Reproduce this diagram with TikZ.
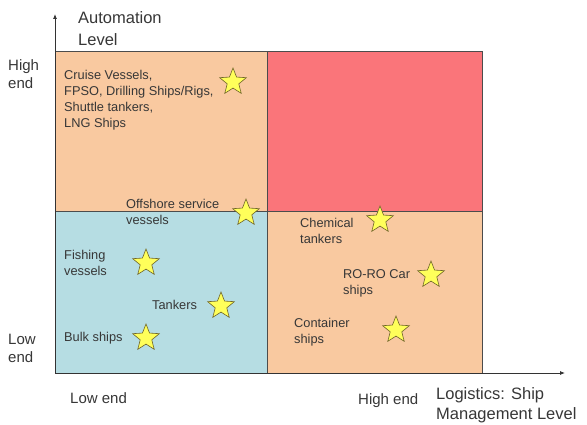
\documentclass[tikz,border=0pt]{standalone}
\usepackage{fontspec}
\setmainfont{Liberation Sans}
\usetikzlibrary{shapes.geometric,arrows.meta}
\definecolor{peach}{RGB}{249,201,160}
\definecolor{redq}{RGB}{250,117,122}
\definecolor{blueq}{RGB}{182,221,227}
\definecolor{txt}{RGB}{55,55,55}
\definecolor{stary}{RGB}{255,255,90}
\definecolor{staredge}{RGB}{110,100,40}
\tikzset{
  quad/.style={draw=black!70, line width=0.8pt},
  lbl/.style={anchor=west, align=left, font=\fontsize{12.8}{16}\selectfont, text=txt, inner sep=0pt},
  axlbl/.style={anchor=west, align=left, font=\fontsize{16.5}{22}\selectfont, text=txt, inner sep=0pt},
  endlbl/.style={anchor=west, align=left, font=\fontsize{15}{18}\selectfont, text=txt, inner sep=0pt},
  starmark/.style={star, star points=5, star point ratio=2.3, minimum size=28pt, inner sep=0pt, fill=stary, draw=staredge, line width=0.6pt},
  axis/.style={draw=black!80, line width=0.8pt, -{Latex[length=5pt,width=4pt]}}
}
\begin{document}
\begin{tikzpicture}[x=1pt,y=-1pt]
\useasboundingbox (0,0) rectangle (587,425);
\fill[white] (0,0) rectangle (587,425);
% quadrants
\path[quad, fill=peach] (55,51) rectangle (267,211);
\path[quad, fill=redq] (267,51) rectangle (482,211);
\path[quad, fill=blueq] (55,211) rectangle (267,373);
\path[quad, fill=peach] (267,211) rectangle (482,373);
% axes
\coordinate (o) at (55,373);
\coordinate (ytip) at (55,14);
\coordinate (xtip) at (565,373);
\draw[axis] (o) -- (ytip);
\draw[axis] (o) -- (xtip);
% axis labels
\node[axlbl] (ylab) at (78,29) {Automation\\Level};
\node[axlbl, font=\fontsize{16.5}{20}\selectfont] (xlab) at (436,405) {Logistics: Ship\\Management Level};
\node[endlbl] (hi) at (8,74) {High\\end};
\node[endlbl] (lo) at (8,348) {Low\\end};
\node[endlbl] (xlo) at (70,398) {Low end};
\node[endlbl] (xhi) at (358,401) {High end};
% labels
\node[lbl] (cruise) at (64,100) {Cruise Vessels,\\FPSO, Drilling Ships/Rigs,\\Shuttle tankers,\\LNG Ships};
\node[lbl] (off) at (126,212) {Offshore service\\vessels};
\node[lbl] (fish) at (64,263) {Fishing\\vessels};
\node[lbl] (tank) at (152,305) {Tankers};
\node[lbl] (bulk) at (64,338) {Bulk ships};
\node[lbl] (chem) at (300,231) {Chemical\\tankers};
\node[lbl] (roro) at (343,283) {RO-RO Car\\ships};
\node[lbl] (cont) at (294,332) {Container\\ships};
% stars
\node[starmark] (s1) at (233,82) {};
\node[starmark] (s2) at (246,213) {};
\node[starmark] (s3) at (380,220) {};
\node[starmark] (s4) at (431,275) {};
\node[starmark] (s5) at (396,330) {};
\node[starmark] (s6) at (146,263) {};
\node[starmark] (s7) at (221,306) {};
\node[starmark] (s8) at (146,338) {};
\end{tikzpicture}
\end{document}
